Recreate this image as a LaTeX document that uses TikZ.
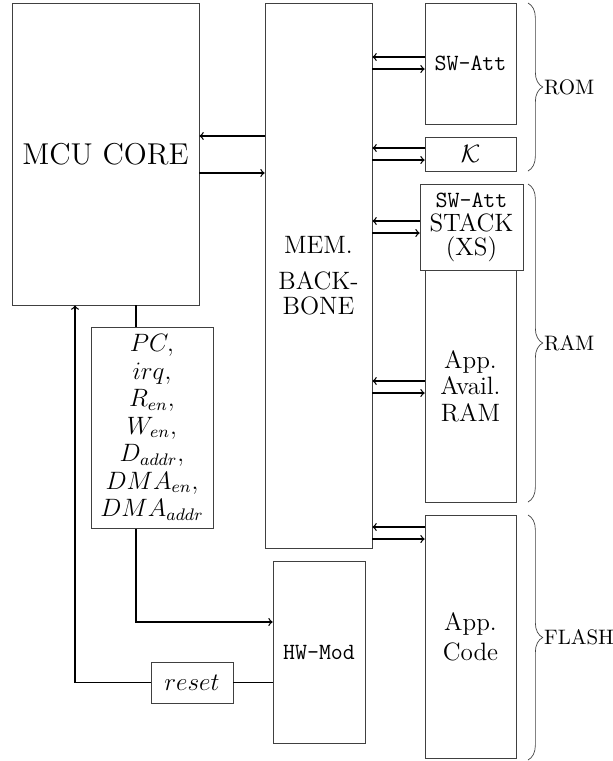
\documentclass[tikz,border=0pt]{standalone}
\usepackage{amsmath,amssymb}
\usetikzlibrary{positioning,calc}
\usetikzlibrary{decorations.pathreplacing}
\newcommand{\pxu}{0.4777pt}
\tikzset{
	blk/.style={draw=black!75,inner sep=0pt,align=center,font=\fontsize{12}{13.1}\selectfont},
	ttxt/.style={font=\fontsize{11.1}{12}\selectfont\ttfamily},
	conn/.style={draw=black,line width=0.75pt},
	brc/.style={draw=black!75,decorate,decoration={brace,amplitude=8.5pt}},
	lbl/.style={inner sep=0pt,font=\normalsize},
}

\begin{document}
\begin{tikzpicture}[scale=1.21,every node/.style={transform shape},x=\pxu,y=-\pxu]
	\useasboundingbox (0,0) rectangle (613,761);
	% core and backbone
	\node[blk,minimum width=187*\pxu,minimum height=302*\pxu,font=\Large] (mcu) at (105.5,154) {MCU CORE};
	\node[blk,minimum width=107*\pxu,minimum height=545*\pxu,font=\fontsize{12}{12}\selectfont] (mem) at (318.5,275.5) {MEM.\\[5.2pt]BACK-\\BONE};
	% memories
	\node[blk,ttxt,minimum width=91*\pxu,minimum height=121*\pxu] (swatt) at (470.5,63.5) {SW-Att};
	\node[blk,minimum width=91*\pxu,minimum height=34*\pxu] (key) at (470.5,154) {$\mathcal{K}$};
	\node[blk,minimum width=91*\pxu,minimum height=232*\pxu,font=\fontsize{12}{12.7}\selectfont] (appram) at (470.5,386) {App.\\Avail.\\RAM};
	\node[blk,fill=white,minimum width=103*\pxu,minimum height=86*\pxu,font=\fontsize{12}{11.5}\selectfont] (stack) at (471.5,227) {{\fontsize{11.1}{11.5}\selectfont\ttfamily SW-Att}\\STACK\\(XS)};
	\node[blk,minimum width=91*\pxu,minimum height=243*\pxu,font=\fontsize{12}{14.3}\selectfont] (appcode) at (470.5,636.5) {App.\\Code};
	% signals, hw module, reset
	\node[blk,minimum width=122*\pxu,minimum height=201*\pxu] (sig) at (152,427.5) {$PC,$\\$irq,$\\$R_{en},$\\$W_{en},$\\$D_{addr},$\\$DMA_{en},$\\$DMA_{addr}$};
	\node[blk,ttxt,minimum width=92*\pxu,minimum height=182*\pxu] (hwmod) at (319,652) {HW-Mod};
	\node[blk,minimum width=82*\pxu,minimum height=41*\pxu] (reset) at (192,682.5) {$reset$};
	% core <-> backbone
	\draw[conn,->] (mem.west |- 0,136) -- (mcu.east |- 0,136);
	\draw[conn,->] (mcu.east |- 0,173) -- (mem.west |- 0,173);
	% backbone <-> memories
	\foreach \m/\ya/\yb in {swatt/57/69,key/148/160,stack/221/233,appram/381/393,appcode/527/539}{
		\draw[conn,->] (\m.west |- 0,\ya) -- (mem.east |- 0,\ya);
		\draw[conn,->] (mem.east |- 0,\yb) -- (\m.west |- 0,\yb);
	}
	\draw[conn] (mcu.south -| 136,0) -- (sig.north -| 136,0);
	\draw[conn,->] (sig.south -| 136,0) |- (hwmod.west |- 0,622);
	\draw[conn] (hwmod.west |- reset.east) -- (reset.east);
	\draw[conn,->] (reset.west) -| (mcu.south -| 75,0);
	% memory regions
	\draw[brc] (528,3) -- node[lbl,right=7.5pt] {ROM} (528,171);
	\draw[brc] (528,184) -- node[lbl,right=7.5pt] {RAM} (528,502);
	\draw[brc] (528,515) -- node[lbl,right=7.5pt] {FLASH} (528,760);
\end{tikzpicture}
\end{document}
